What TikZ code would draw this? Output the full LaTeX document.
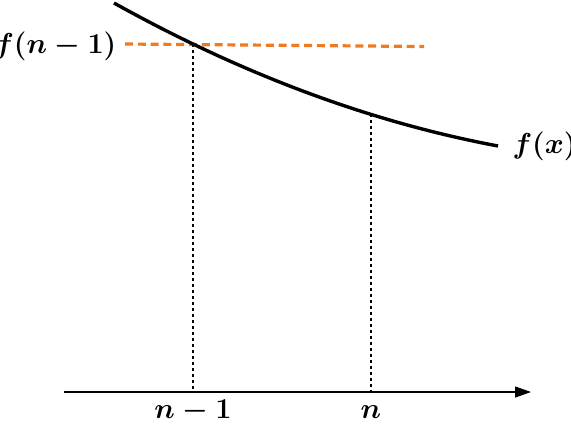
\documentclass[tikz,border=0pt]{standalone}
\usetikzlibrary{arrows.meta, positioning}
\definecolor{corange}{HTML}{EE7A22}
\definecolor{cblack}{HTML}{000000}
\tikzset{
  every picture/.style={line width=0.65pt},
  lbl/.style={font=\fontsize{13.5}{16}\selectfont\boldmath, inner sep=0pt},
  curve/.style={draw=cblack, line width=1.7pt},
  guide/.style={draw=cblack, line width=0.6pt, dash pattern=on 1.6pt off 1.4pt},
  level/.style={draw=corange, line width=1.6pt, dash pattern=on 4pt off 2.4pt},
  axis/.style={-{Triangle[length=8pt, width=5.5pt]}, draw=cblack},
}
\begin{document}
\begin{tikzpicture}[x=0.5pt, y=-0.5pt]
  \useasboundingbox (0,0) rectangle (571,424);
  % points on the curve
  \coordinate (pa) at (193,44);
  \coordinate (pb) at (371,114);
  \coordinate (end) at (498,146);
  \coordinate (ax0) at (64,392);
  \coordinate (ax1) at (531,392);
  \coordinate (qa) at (193,392);
  \coordinate (qb) at (371,392);
  \coordinate (lv0) at (125,44);
  \coordinate (lv1) at (424,46.5);
  \draw[axis] (ax0) -- (ax1);
  \draw[guide] (pa) -- (qa);
  \draw[guide] (pb) -- (qb);
  \draw[level] (lv0) -- (lv1);
  \draw[curve] plot[domain=114:498, samples=80] (\x, {-66.74+0.6666*\x-4.8075*(\x/100)^2});
  \node[lbl, anchor=base east] (fprev) at (117,53) {$f(n-1)$};
  \node[lbl, anchor=base west] (fx) at (512,153) {$f(x)$};
  \node[lbl, anchor=base] (tprev) at (193,418) {$n-1$};
  \node[lbl, anchor=base] (tn) at (371,418) {$n$};
\end{tikzpicture}
\end{document}
